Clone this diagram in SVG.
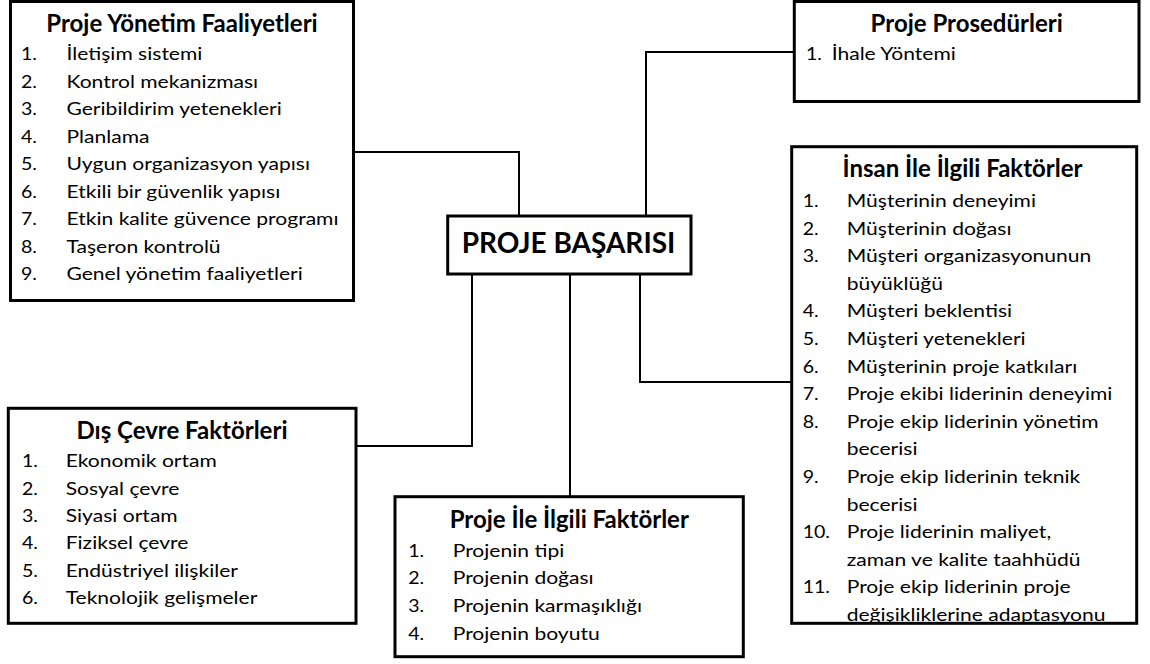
<svg xmlns="http://www.w3.org/2000/svg" width="1150" height="664" viewBox="0 0 1150 664">
  <style>
    .box { fill: #fff; stroke: #000; stroke-width: 3; }
    .link { fill: none; stroke: #000; stroke-width: 2; }
    text { font-family: Lato, "Open Sans", "Liberation Sans", sans-serif; fill: #000; }
    .title { font-size: 24px; font-weight: bold; text-anchor: middle; }
    .main { font-size: 28px; font-weight: bold; text-anchor: middle; }
    .item { font-size: 17px; }
  </style>
  <defs>
    <clipPath id="humanClip">
      <rect x="793" y="148" width="342" height="474"/>
    </clipPath>
  </defs>
  <rect width="1150" height="664" fill="#fff"/>

  <!-- connectors -->
  <g id="connectors">
    <path class="link" d="M354 152 H519 V216"/>
    <path class="link" d="M646 216 V52 H794"/>
    <path class="link" d="M472 274 V446 H356"/>
    <path class="link" d="M570 274 V497"/>
    <path class="link" d="M640 274 V382 H792"/>
  </g>

  <!-- centre node -->
  <g id="proje-basarisi">
    <rect class="box" x="447.7" y="216" width="243.3" height="58"/>
    <text class="main" x="568.5" y="253">PROJE BAŞARISI</text>
  </g>

  <!-- management activities -->
  <g id="yonetim-faaliyetleri">
    <rect class="box" x="10.5" y="1.5" width="343" height="299"/>
    <text class="title" x="182" y="32">Proje Yönetim Faaliyetleri</text>
    <g class="item" transform="translate(21 0) scale(1.15 1)">
      <text x="0" y="60.5">1.</text>
      <text x="0" y="88">2.</text>
      <text x="0" y="115.5">3.</text>
      <text x="0" y="143">4.</text>
      <text x="0" y="170.5">5.</text>
      <text x="0" y="198">6.</text>
      <text x="0" y="225.5">7.</text>
      <text x="0" y="253">8.</text>
      <text x="0" y="280.5">9.</text>
    </g>
    <g class="item" transform="translate(66.5 0) scale(1.24 1)">
      <text x="0" y="60.5">İletişim sistemi</text>
      <text x="0" y="88">Kontrol mekanizması</text>
      <text x="0" y="115.5">Geribildirim yetenekleri</text>
      <text x="0" y="143">Planlama</text>
      <text x="0" y="170.5">Uygun organizasyon yapısı</text>
      <text x="0" y="198">Etkili bir güvenlik yapısı</text>
      <text x="0" y="225.5">Etkin kalite güvence programı</text>
      <text x="0" y="253">Taşeron kontrolü</text>
      <text x="0" y="280.5">Genel yönetim faaliyetleri</text>
    </g>
  </g>

  <!-- procedures -->
  <g id="prosedurler">
    <rect class="box" x="794.3" y="1.5" width="344.7" height="100"/>
    <text class="title" x="966.7" y="31.7">Proje Prosedürleri</text>
    <g class="item" transform="translate(806 0) scale(1.15 1)">
      <text x="0" y="60">1.</text>
    </g>
    <g class="item" transform="translate(831.7 0) scale(1.24 1)">
      <text x="0" y="60">İhale Yöntemi</text>
    </g>
  </g>

  <!-- human factors -->
  <g id="insan-faktorleri">
    <rect class="box" x="791.7" y="146.7" width="345" height="476.6"/>
    <text class="title" x="962.5" y="176.7">İnsan İle İlgili Faktörler</text>
    <g clip-path="url(#humanClip)">
      <g class="item" transform="translate(802.7 0) scale(1.15 1)">
        <text x="0" y="207">1.</text>
        <text x="0" y="234.6">2.</text>
        <text x="0" y="262.2">3.</text>
        <text x="0" y="317.4">4.</text>
        <text x="0" y="345">5.</text>
        <text x="0" y="372.6">6.</text>
        <text x="0" y="400.2">7.</text>
        <text x="0" y="427.8">8.</text>
        <text x="0" y="483">9.</text>
        <text x="0" y="538.2">10.</text>
        <text x="0" y="593.4">11.</text>
      </g>
      <g class="item" transform="translate(846.7 0) scale(1.24 1)">
        <text x="0" y="207">Müşterinin deneyimi</text>
        <text x="0" y="234.6">Müşterinin doğası</text>
        <text x="0" y="262.2">Müşteri organizasyonunun</text>
        <text x="0" y="289.8">büyüklüğü</text>
        <text x="0" y="317.4">Müşteri beklentisi</text>
        <text x="0" y="345">Müşteri yetenekleri</text>
        <text x="0" y="372.6">Müşterinin proje katkıları</text>
        <text x="0" y="400.2">Proje ekibi liderinin deneyimi</text>
        <text x="0" y="427.8">Proje ekip liderinin yönetim</text>
        <text x="0" y="455.4">becerisi</text>
        <text x="0" y="483">Proje ekip liderinin teknik</text>
        <text x="0" y="510.6">becerisi</text>
        <text x="0" y="538.2">Proje liderinin maliyet,</text>
        <text x="0" y="565.8">zaman ve kalite taahhüdü</text>
        <text x="0" y="593.4">Proje ekip liderinin proje</text>
        <text x="0" y="621">değişikliklerine adaptasyonu</text>
      </g>
    </g>
  </g>

  <!-- external environment -->
  <g id="dis-cevre">
    <rect class="box" x="8.3" y="408.3" width="347.7" height="215"/>
    <text class="title" x="182" y="439.3">Dış Çevre Faktörleri</text>
    <g class="item" transform="translate(22 0) scale(1.15 1)">
      <text x="0" y="467.3">1.</text>
      <text x="0" y="494.7">2.</text>
      <text x="0" y="522">3.</text>
      <text x="0" y="549.3">4.</text>
      <text x="0" y="576.6">5.</text>
      <text x="0" y="604">6.</text>
    </g>
    <g class="item" transform="translate(65.7 0) scale(1.24 1)">
      <text x="0" y="467.3">Ekonomik ortam</text>
      <text x="0" y="494.7">Sosyal çevre</text>
      <text x="0" y="522">Siyasi ortam</text>
      <text x="0" y="549.3">Fiziksel çevre</text>
      <text x="0" y="576.6">Endüstriyel ilişkiler</text>
      <text x="0" y="604">Teknolojik gelişmeler</text>
    </g>
  </g>

  <!-- project factors -->
  <g id="proje-faktorleri">
    <rect class="box" x="395" y="496.7" width="348.3" height="160"/>
    <text class="title" x="569.3" y="528.3">Proje İle İlgili Faktörler</text>
    <g class="item" transform="translate(408.3 0) scale(1.15 1)">
      <text x="0" y="556.7">1.</text>
      <text x="0" y="584.5">2.</text>
      <text x="0" y="612.3">3.</text>
      <text x="0" y="640">4.</text>
    </g>
    <g class="item" transform="translate(452.7 0) scale(1.24 1)">
      <text x="0" y="556.7">Projenin tipi</text>
      <text x="0" y="584.5">Projenin doğası</text>
      <text x="0" y="612.3">Projenin karmaşıklığı</text>
      <text x="0" y="640">Projenin boyutu</text>
    </g>
  </g>
</svg>
